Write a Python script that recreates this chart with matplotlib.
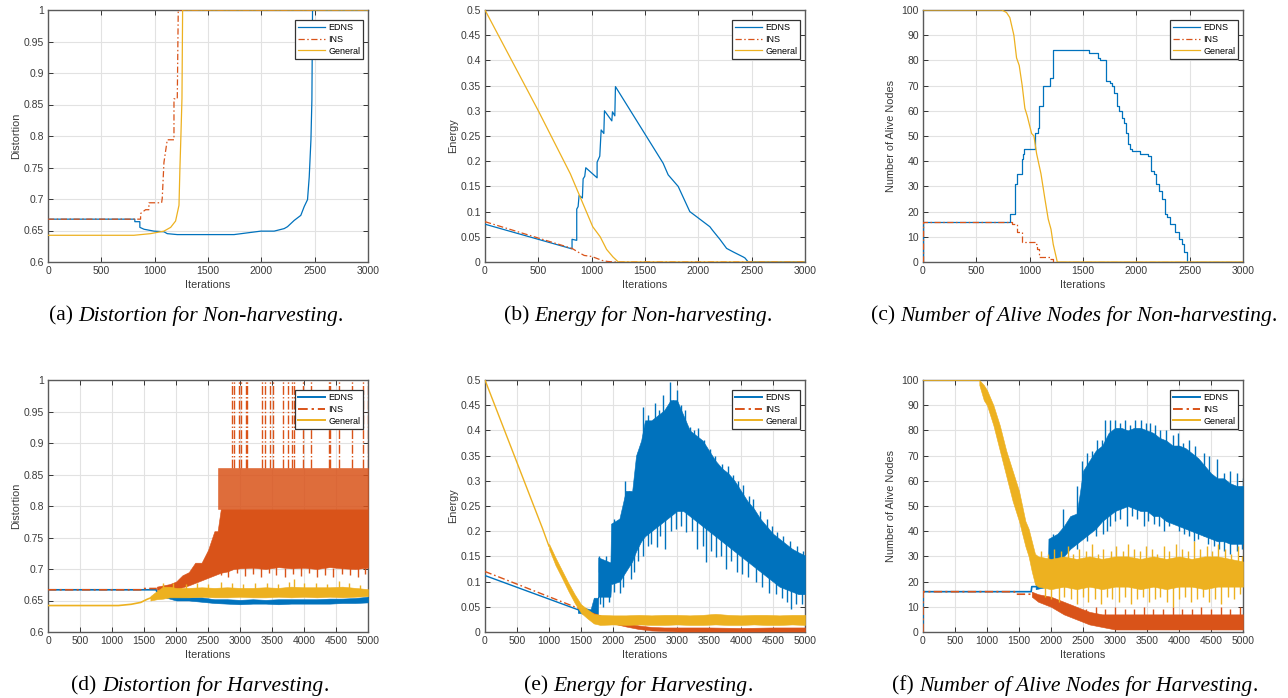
import numpy as np
import matplotlib
matplotlib.use("Agg")
import matplotlib.pyplot as plt
from matplotlib.lines import Line2D
from matplotlib.ticker import FormatStrFormatter
from matplotlib.offsetbox import TextArea, HPacker, AnnotationBbox

plt.rcParams['font.family'] = ['Liberation Sans', 'DejaVu Sans']

BLUE = '#0072BD'
RED = '#D95319'
YEL = '#EDB120'
DASHDOT = (0, (5, 2, 1.2, 2))

# ---------------- (a) distortion, non-harvesting ----------------
a_edns_x = [0, 814, 814, 861, 861, 900, 993, 1087, 1118, 1212, 1744, 1995, 2120, 2214, 2245, 2308, 2370, 2402, 2433, 2449, 2465, 2474, 2480, 3000]
a_edns_y = [0.668, 0.668, 0.664, 0.664, 0.655, 0.652, 0.649, 0.648, 0.645, 0.6435, 0.6435, 0.649, 0.649, 0.653, 0.656, 0.666, 0.674, 0.688, 0.699, 0.735, 0.794, 0.857, 1.0, 1.0]
a_ins_x = [0, 814, 868, 868, 915, 946, 946, 1065, 1071, 1087, 1118, 1181, 1181, 1212, 1221, 3000]
a_ins_y = [0.668, 0.668, 0.668, 0.677, 0.683, 0.683, 0.694, 0.694, 0.701, 0.758, 0.794, 0.794, 0.859, 0.859, 1.0, 1.0]
a_gen_x = [0, 805, 961, 1087, 1150, 1196, 1228, 1237, 1246, 1256, 1262, 3000]
a_gen_y = [0.6424, 0.6424, 0.645, 0.649, 0.655, 0.665, 0.69, 0.75, 0.80, 0.86, 1.0, 1.0]

# ---------------- (b) energy, non-harvesting ----------------
b_edns_x = [0, 816, 816, 860, 860, 873, 882, 913, 920, 935, 945, 1051, 1051, 1076, 1089, 1114, 1120, 1189, 1195, 1217, 1223,
            1670, 1717, 1811, 1920, 1983, 2108, 2133, 2202, 2265, 2327, 2421, 2437, 2468, 3000]
b_edns_y = [0.075, 0.026, 0.045, 0.043, 0.105, 0.11, 0.132, 0.127, 0.165, 0.17, 0.187, 0.167, 0.198, 0.21, 0.262, 0.255, 0.30, 0.28, 0.298, 0.29, 0.348,
            0.196, 0.173, 0.15, 0.10, 0.09, 0.07, 0.063, 0.045, 0.027, 0.02, 0.01, 0.008, 0.0, 0.0]
b_ins_x = [0, 816, 870, 930, 1000, 1050, 1100, 1150, 1220, 3000]
b_ins_y = [0.08, 0.027, 0.02, 0.013, 0.011, 0.007, 0.003, 0.001, 0.0, 0.0]
b_gen_x = [0, 500, 800, 850, 950, 1010, 1080, 1140, 1200, 1250, 3000]
b_gen_y = [0.5, 0.3, 0.175, 0.15, 0.1, 0.07, 0.05, 0.025, 0.01, 0.0, 0.0]

# ---------------- (c) alive nodes, non-harvesting ----------------
c_edns_x = [0, 1, 814, 861, 877, 924, 940, 949, 1049, 1074, 1090, 1121, 1190, 1221, 1560, 1638, 1660, 1716, 1754, 1776, 1791, 1816,
            1838, 1864, 1885, 1901, 1926, 1942, 1957, 2036, 2114, 2139, 2161, 2183, 2208, 2239, 2271, 2286, 2311, 2365, 2402, 2427,
            2449, 2474, 3000]
c_edns_y = [0, 16, 19, 31, 35, 41, 43, 45, 51, 53, 62, 70, 73, 84, 83, 81, 80, 72, 71, 70, 67, 62,
            60, 57, 55, 51, 47, 45, 44, 43, 42, 36, 35, 31, 28, 25, 19, 18, 15, 12, 9, 7,
            4, 0, 0]
c_ins_x = [0, 1, 814, 830, 877, 930, 1049, 1065, 1090, 1190, 1221, 3000]
c_ins_y = [0, 16, 16, 15, 12, 8, 7, 5, 2, 1, 0, 0]
c_gen_x = [0, 739, 783, 814, 852, 877, 902, 930, 955, 977, 1018, 1040, 1065, 1106, 1143, 1174, 1200, 1221, 1259, 3000]
c_gen_y = [100, 100, 99, 97, 90, 81, 78, 70, 61, 58, 51, 50, 43, 35, 25, 17, 13, 7, 0, 0]

# ---------------- (d) distortion, harvesting ----------------
d_edns_x = [0, 1690, 1700, 1760, 1800]
d_edns_y = [0.667, 0.667, 0.664, 0.663, 0.659]
d_edns_bx = [1800, 2000, 2200, 2400, 2600, 2800, 3000, 3200, 3400, 3600, 3800, 4000, 4200, 4400, 4600, 4800, 5000]
d_edns_lo = [0.656, 0.650, 0.650, 0.648, 0.646, 0.645, 0.644, 0.645, 0.645, 0.644, 0.645, 0.645, 0.645, 0.645, 0.646, 0.646, 0.647]
d_edns_hi = [0.662, 0.656, 0.655, 0.655, 0.652, 0.652, 0.651, 0.652, 0.651, 0.652, 0.652, 0.652, 0.652, 0.653, 0.653, 0.654, 0.656]
d_ins_x = [0, 1450, 1460, 1700]
d_ins_y = [0.667, 0.667, 0.669, 0.669]
d_ins_bx = [1700, 1900, 2000, 2100, 2200, 2300, 2400, 2500, 2600, 2650, 2700, 2800, 2900, 3000, 3200, 3400, 3600, 3800, 4000, 4200, 4400, 4600, 4800, 5000]
d_ins_lo = [0.667, 0.666, 0.667, 0.671, 0.674, 0.678, 0.682, 0.686, 0.690, 0.692, 0.694, 0.696, 0.700, 0.701, 0.702, 0.700, 0.703, 0.701, 0.702, 0.700, 0.703, 0.701, 0.700, 0.702]
d_ins_hi = [0.672, 0.676, 0.680, 0.690, 0.695, 0.710, 0.710, 0.730, 0.760, 0.760, 0.795, 0.795, 0.795, 0.795, 0.795, 0.795, 0.795, 0.795, 0.795, 0.795, 0.795, 0.795, 0.795, 0.795]
d_ins_spike_x = [2650, 2700, 2800, 2900, 3000, 3200, 3400, 3600, 3800, 4000, 4200, 4400, 4600, 4800, 5000]
d_ins_spike_hi = [0.86, 0.86, 0.86, 0.86, 0.86, 0.86, 0.86, 0.86, 0.86, 0.86, 0.86, 0.86, 0.86, 0.86, 0.86]
d_ins_top_x = [2871, 2907, 2985, 3022, 3090, 3116, 3351, 3392, 3471, 3523, 3674, 3753, 3805, 3847, 3987, 4108, 4384, 4405, 4541, 4749, 4916, 4995]
d_ins_dn_x = [2700, 2820, 2950, 3080, 3200, 3330, 3460, 3560, 3700, 3830, 3950, 4080, 4200, 4330, 4460, 4600, 4720, 4850, 4960]
d_ins_dn_tip = [0.690, 0.688, 0.694, 0.689, 0.692, 0.688, 0.693, 0.690, 0.687, 0.692, 0.689, 0.693, 0.688, 0.691, 0.687, 0.692, 0.690, 0.688, 0.692]
d_gen_x = [0, 1100, 1300, 1450, 1550, 1650]
d_gen_y = [0.642, 0.642, 0.644, 0.647, 0.652, 0.656]
d_gen_bx = [1600, 1700, 1800, 1900, 2000, 2200, 2400, 2600, 2800, 3000, 3200, 3400, 3600, 3800, 4000, 4200, 4400, 4600, 4800, 5000]
d_gen_lo = [0.650, 0.652, 0.653, 0.655, 0.655, 0.655, 0.656, 0.655, 0.655, 0.656, 0.655, 0.655, 0.656, 0.655, 0.656, 0.655, 0.656, 0.655, 0.656, 0.657]
d_gen_hi = [0.657, 0.665, 0.672, 0.672, 0.670, 0.670, 0.671, 0.670, 0.671, 0.670, 0.670, 0.671, 0.670, 0.672, 0.671, 0.671, 0.671, 0.672, 0.670, 0.668]
d_gen_up_x = [1800, 1950, 2150, 2330, 2500, 2700, 2880, 3050, 3240, 3420, 3600, 3760, 3846, 4000, 4180, 4360, 4550, 4700, 4880]
d_gen_up_tip = [0.677, 0.677, 0.676, 0.678, 0.676, 0.679, 0.677, 0.676, 0.678, 0.677, 0.676, 0.679, 0.684, 0.677, 0.678, 0.676, 0.681, 0.678, 0.675]

# ---------------- (e) energy, harvesting ----------------
e_edns_x = [0, 1500]
e_edns_y = [0.112, 0.042]
e_edns_bx = [1450, 1550, 1650, 1700, 1765, 1770, 1960, 1970, 2100, 2200, 2300, 2360, 2440, 2500, 2600, 2700, 2800, 2900, 3000, 3100,
             3200, 3300, 3400, 3500, 3600, 3700, 3800, 3900, 4000, 4100, 4200, 4300, 4400, 4500, 4600, 4700, 4800, 4900, 5000]
e_edns_hi = [0.046, 0.048, 0.045, 0.068, 0.068, 0.148, 0.138, 0.215, 0.225, 0.28, 0.28, 0.35, 0.38, 0.42, 0.42, 0.43, 0.44, 0.46, 0.46, 0.43,
             0.40, 0.39, 0.38, 0.36, 0.34, 0.325, 0.315, 0.30, 0.28, 0.26, 0.245, 0.225, 0.21, 0.195, 0.185, 0.175, 0.165, 0.158, 0.152]
e_edns_lo = [0.038, 0.036, 0.036, 0.032, 0.036, 0.07, 0.07, 0.095, 0.10, 0.12, 0.14, 0.16, 0.18, 0.19, 0.20, 0.21, 0.22, 0.23, 0.24, 0.24,
             0.23, 0.22, 0.21, 0.20, 0.19, 0.18, 0.17, 0.16, 0.15, 0.14, 0.13, 0.12, 0.11, 0.10, 0.09, 0.085, 0.08, 0.075, 0.075]
e_edns_up_x = [1783, 1883, 2020, 2185, 2250, 2393, 2461, 2550, 2600, 2654, 2720, 2784, 2889, 2940, 2993, 3060, 3130, 3202, 3270, 3332,
               3420, 3515, 3600, 3697, 3790, 3879, 3960, 4036, 4120, 4192, 4300, 4401, 4480, 4557, 4660, 4766, 4870, 4974]
e_edns_up_tip = [0.151, 0.150, 0.225, 0.299, 0.28, 0.357, 0.447, 0.43, 0.41, 0.454, 0.44, 0.47, 0.497, 0.46, 0.48, 0.45, 0.44, 0.407, 0.40, 0.405,
                 0.38, 0.364, 0.35, 0.334, 0.33, 0.311, 0.30, 0.291, 0.27, 0.264, 0.24, 0.224, 0.21, 0.198, 0.19, 0.181, 0.17, 0.161]
e_edns_up_root = [0.12, 0.12, 0.19, 0.24, 0.24, 0.30, 0.33, 0.36, 0.37, 0.38, 0.39, 0.40, 0.42, 0.42, 0.42, 0.41, 0.39, 0.37, 0.36, 0.35,
                  0.34, 0.33, 0.31, 0.30, 0.29, 0.28, 0.27, 0.25, 0.23, 0.22, 0.20, 0.19, 0.18, 0.17, 0.16, 0.15, 0.14, 0.13]
e_edns_dn_x = [1800, 1850, 1930, 2010, 2102, 2160, 2280, 2330, 2385, 2470, 2540, 2600, 2680, 2740, 2815, 2900, 2980, 3060, 3140, 3230,
               3320, 3400, 3450, 3530, 3605, 3680, 3762, 3850, 3930, 4022, 4110, 4230, 4330, 4440, 4540, 4648, 4720, 4778, 4860, 4960]
e_edns_dn_tip = [0.056, 0.05, 0.06, 0.08, 0.078, 0.09, 0.105, 0.12, 0.14, 0.15, 0.17, 0.175, 0.168, 0.19, 0.165, 0.20, 0.205, 0.21, 0.198, 0.20,
                 0.165, 0.17, 0.138, 0.16, 0.148, 0.15, 0.125, 0.14, 0.12, 0.115, 0.11, 0.100, 0.09, 0.078, 0.075, 0.068, 0.06, 0.046, 0.055, 0.055]
e_edns_dn_root = [0.09, 0.09, 0.09, 0.14, 0.14, 0.15, 0.18, 0.19, 0.20, 0.22, 0.23, 0.24, 0.25, 0.26, 0.27, 0.28, 0.29, 0.29, 0.28, 0.27,
                  0.26, 0.25, 0.25, 0.24, 0.23, 0.22, 0.21, 0.20, 0.19, 0.18, 0.17, 0.16, 0.15, 0.14, 0.13, 0.12, 0.115, 0.11, 0.105, 0.10]
e_ins_x = [0, 1500, 1600]
e_ins_y = [0.12, 0.045, 0.039]
e_ins_bx = [1600, 1800, 2000, 2200, 2400, 2600, 2800, 3000, 3500, 4000, 4500, 5000]
e_ins_lo = [0.036, 0.025, 0.017, 0.011, 0.006, 0.003, 0.002, 0.001, 0.001, 0.001, 0.001, 0.001]
e_ins_hi = [0.042, 0.033, 0.024, 0.018, 0.013, 0.010, 0.009, 0.009, 0.009, 0.008, 0.009, 0.009]
e_gen_x = [0, 900, 1000]
e_gen_y = [0.5, 0.205, 0.17]
e_gen_bx = [1000, 1100, 1200, 1300, 1400, 1500, 1600, 1700, 1800, 2000, 2200, 2400, 2600, 2800, 3000, 3200, 3400, 3600, 3800, 4000, 4200, 4400, 4600, 4800, 5000]
e_gen_lo = [0.165, 0.133, 0.108, 0.082, 0.058, 0.038, 0.027, 0.017, 0.014, 0.015, 0.014, 0.015, 0.014, 0.014, 0.015, 0.014, 0.014, 0.015, 0.014, 0.014, 0.015, 0.014, 0.014, 0.015, 0.014]
e_gen_hi = [0.175, 0.148, 0.123, 0.098, 0.075, 0.055, 0.045, 0.036, 0.034, 0.033, 0.033, 0.034, 0.033, 0.034, 0.034, 0.033, 0.034, 0.036, 0.034, 0.033, 0.034, 0.034, 0.033, 0.034, 0.034]

# ---------------- (f) alive nodes, harvesting ----------------
f_edns_x = [0, 1, 1690, 1700, 1760]
f_edns_y = [0, 16, 16, 18, 18]
f_edns_bx = [1760, 1950, 1960, 2100, 2200, 2300, 2400, 2450, 2500, 2600, 2700, 2800, 2900, 3000, 3100, 3200, 3300, 3400, 3500, 3600,
             3700, 3800, 3900, 4000, 4100, 4200, 4300, 4400, 4500, 4600, 4700, 4800, 4900, 5000]
f_edns_hi = [21, 22, 37, 39, 42, 46, 47, 55, 64, 68, 72, 74, 79, 81, 81, 80, 81, 81, 80, 79,
             77, 76, 74, 74, 73, 71, 69, 66, 63, 61, 61, 59, 58, 58]
f_edns_lo = [17, 18, 28, 29, 30, 33, 35, 36, 37, 39, 41, 44, 46, 48, 49, 50, 49, 48, 48, 46,
             46, 44, 43, 42, 41, 40, 39, 38, 37, 36, 36, 35, 35, 35]
f_edns_up_x = [2030, 2187, 2400, 2480, 2560, 2640, 2715, 2800, 2845, 2925, 3000, 3080, 3150, 3230, 3310, 3400, 3480, 3550, 3630, 3706,
               3800, 3900, 3980, 4070, 4160, 4250, 4383, 4470, 4592, 4697, 4800, 4906, 5000]
f_edns_up_tip = [39, 49, 58, 68, 71, 72, 76, 76, 84, 84, 84, 83, 84, 82, 84, 84, 83, 83, 82, 80,
                 80, 78, 79, 75, 76, 74, 71, 70, 68.6, 63, 64, 63, 61]
f_edns_up_root = [33, 38, 43, 50, 57, 62, 66, 68, 70, 74, 76, 76, 76, 75, 76, 76, 75, 75, 74, 73,
                  72, 71, 70, 69, 68, 67, 64, 62, 60, 57, 56, 55, 54]
f_edns_dn_x = [2400, 2560, 2700, 2820, 2880, 2925, 3000, 3082, 3186, 3260, 3340, 3446, 3520, 3603, 3680, 3760, 3840, 3917, 4000, 4073,
               4150, 4230, 4300, 4386, 4460, 4540, 4620, 4700, 4800, 4910, 4980]
f_edns_dn_tip = [33, 36, 38, 39, 40, 42, 44, 45, 42, 46, 45, 42, 44, 43, 42, 40, 42, 44, 40, 39,
                 38, 36, 37, 38, 35, 34, 33, 32, 31, 32, 33]
f_edns_dn_root = [40, 45, 49, 52, 53, 54, 56, 57, 58, 57, 56, 56, 56, 54, 54, 52, 51, 50, 50, 49,
                  48, 47, 47, 46, 45, 44, 44, 44, 43, 42, 42]
f_ins_x = [0, 1, 1430, 1440, 1700]
f_ins_y = [0, 16, 16, 15, 15]
f_ins_bx = [1700, 1800, 2000, 2200, 2400, 2600, 2800, 3000, 3500, 4000, 4500, 5000]
f_ins_lo = [14, 12, 10, 7, 5, 3, 2, 1, 1, 1, 1, 1]
f_ins_hi = [16, 15, 14, 12, 10, 8, 7, 7, 7, 7, 7, 7]
f_ins_up_x = [2550, 2700, 2850, 3000, 3150, 3300, 3450, 3600, 3750, 3900, 4050, 4200, 4350, 4500, 4650, 4800, 4950]
f_ins_up_tip = [9, 10, 9, 10, 9, 9, 10, 9, 9, 10, 9, 9, 10, 9, 10, 9, 10]
f_gen_x = [0, 880]
f_gen_y = [100, 100]
f_gen_bx = [880, 950, 1000, 1100, 1200, 1300, 1400, 1500, 1600, 1650, 1700, 1750, 1800, 2000, 2200, 2400, 2600, 2800, 3000, 3200,
            3400, 3600, 3800, 4000, 4200, 4400, 4600, 4800, 5000]
f_gen_hi = [100, 98, 96, 90, 82, 72, 64, 56, 44, 41, 36, 31, 30, 29, 30, 29, 30, 29, 30, 30,
            29, 30, 29, 30, 29, 30, 30, 29, 28]
f_gen_lo = [98, 92, 90, 82, 72, 62, 52, 44, 34, 30, 24, 19, 18, 17, 18, 17, 18, 17, 18, 18,
            17, 18, 17, 18, 18, 17, 18, 18, 18]
f_gen_up_x = [1850, 1950, 2050, 2150, 2260, 2350, 2440, 2550, 2640, 2730, 2820, 2930, 3010, 3120, 3200, 3290, 3390, 3480, 3580, 3660,
              3760, 3850, 3950, 4040, 4140, 4230, 4330, 4430, 4520, 4610, 4720, 4810, 4920, 4990]
f_gen_up_tip = [32, 31, 33, 32, 34, 31, 33, 32, 35, 31, 33, 32, 34, 32, 35, 33, 32, 34, 33, 31,
                34, 32, 35, 33, 32, 36, 33, 34, 32, 35, 33, 31, 34, 30]
f_gen_dn_x = [1900, 2000, 2120, 2200, 2310, 2400, 2500, 2580, 2690, 2780, 2870, 2960, 3060, 3160, 3250, 3340, 3440, 3530, 3620, 3710,
              3810, 3900, 4000, 4090, 4180, 4280, 4380, 4470, 4570, 4660, 4760, 4860, 4950]
f_gen_dn_tip = [14, 13, 12, 14, 13, 11, 14, 12, 13, 11, 14, 13, 12, 14, 11, 13, 14, 12, 13, 14,
                12, 10, 13, 14, 12, 13, 14, 12, 13, 11, 14, 13, 15]

captions = [("(a) ", "Distortion for Non-harvesting"),
            ("(b) ", "Energy for Non-harvesting"),
            ("(c) ", "Number of Alive Nodes for Non-harvesting"),
            ("(d) ", "Distortion for Harvesting"),
            ("(e) ", "Energy for Harvesting"),
            ("(f) ", "Number of Alive Nodes for Harvesting")]

W, H = 1288, 698
fig = plt.figure(figsize=(W / 100, H / 100), dpi=100)

lefts = [48, 485, 923]
tops = [10, 380]


def make_ax(col, row):
    l = lefts[col]
    t = tops[row]
    return fig.add_axes([l / W, 1 - (t + 252) / H, 320 / W, 252 / H])


def style(ax, xmax, ymax, ystep, ylabel, ymin=0.0):
    ax.set_xlim(0, xmax)
    ax.set_ylim(ymin, ymax)
    ax.set_xticks(np.arange(0, xmax + 1, 500))
    ax.set_yticks(np.arange(ymin, ymax + ystep / 2, ystep))
    ax.yaxis.set_major_formatter(FormatStrFormatter('%g'))
    ax.grid(True, color='#e2e2e2', lw=0.8)
    ax.set_axisbelow(True)
    ax.tick_params(direction='in', top=True, right=True, length=3.5, width=0.7,
                   color='#333333', labelcolor='#3a3a3a', labelsize=7.5, pad=3)
    for s in ax.spines.values():
        s.set_color('#5a5a5a')
        s.set_linewidth(1.0)
    ax.set_xlabel('Iterations', fontsize=7.8, color='#3a3a3a', labelpad=3)
    ax.set_ylabel(ylabel, fontsize=7.8, color='#3a3a3a')
    ax.yaxis.set_label_coords(-0.085, 0.5)


def legend(ax, lw):
    hs = [Line2D([], [], color=BLUE, lw=lw),
          Line2D([], [], color=RED, lw=lw, ls=DASHDOT),
          Line2D([], [], color=YEL, lw=lw)]
    lg = ax.legend(hs, ['EDNS', 'INS', 'General'], loc='upper right', bbox_to_anchor=(0.985, 0.96),
                   borderaxespad=0, fontsize=6.5, handlelength=3.0, handletextpad=0.3,
                   labelspacing=0.3, borderpad=0.35, fancybox=False, framealpha=1)
    lg.get_frame().set_edgecolor('#333333')
    lg.get_frame().set_linewidth(0.9)
    lg.set_zorder(10)


def band(ax, x, lo, hi, color, alpha=1.0):
    ax.fill_between(x, lo, hi, color=color, lw=0.4, alpha=alpha, zorder=3)


def spikes(ax, x, tip, root, color, ls='-'):
    ax.vlines(x, tip, root, color=color, lw=1.0, linestyles=ls, zorder=3)


# (a)
ax = make_ax(0, 0)
ax.plot(a_edns_x, a_edns_y, color=BLUE, lw=0.9, zorder=3)
ax.plot(a_ins_x, a_ins_y, color=RED, lw=0.9, ls=DASHDOT, zorder=3)
ax.plot(a_gen_x, a_gen_y, color=YEL, lw=0.9, zorder=3)
style(ax, 3000, 1.0, 0.05, 'Distortion', ymin=0.6)
legend(ax, 0.9)

# (b)
ax = make_ax(1, 0)
ax.plot(b_edns_x, b_edns_y, color=BLUE, lw=0.9, zorder=3)
ax.plot(b_ins_x, b_ins_y, color=RED, lw=0.9, ls=DASHDOT, zorder=3)
ax.plot(b_gen_x, b_gen_y, color=YEL, lw=0.9, zorder=3)
style(ax, 3000, 0.5, 0.05, 'Energy')
legend(ax, 0.9)

# (c)
ax = make_ax(2, 0)
ax.plot(c_edns_x, c_edns_y, color=BLUE, lw=0.9, drawstyle='steps-post', zorder=3)
ax.plot(c_ins_x, c_ins_y, color=RED, lw=0.9, ls=DASHDOT, drawstyle='steps-post', zorder=3)
ax.plot(c_gen_x, c_gen_y, color=YEL, lw=0.9, zorder=3)
style(ax, 3000, 100, 10, 'Number of Alive Nodes')
legend(ax, 0.9)

# (d)
ax = make_ax(0, 1)
ax.plot(d_edns_x, d_edns_y, color=BLUE, lw=1.2, zorder=3)
band(ax, d_edns_bx, d_edns_lo, d_edns_hi, BLUE)
ax.plot(d_ins_x, d_ins_y, color=RED, lw=1.2, ls=DASHDOT, zorder=3)
band(ax, d_ins_spike_x, 0.795, d_ins_spike_hi, RED, alpha=0.85)
band(ax, d_ins_bx, d_ins_lo, d_ins_hi, RED)
spikes(ax, d_ins_top_x, 0.86, 1.0, RED, ls='-.')
spikes(ax, d_ins_dn_x, d_ins_dn_tip, 0.71, RED, ls='-.')
ax.plot(d_gen_x, d_gen_y, color=YEL, lw=1.2, zorder=3)
band(ax, d_gen_bx, d_gen_lo, d_gen_hi, YEL)
spikes(ax, d_gen_up_x, d_gen_up_tip, 0.665, YEL)
style(ax, 5000, 1.0, 0.05, 'Distortion', ymin=0.6)
legend(ax, 1.4)

# (e)
ax = make_ax(1, 1)
ax.plot(e_edns_x, e_edns_y, color=BLUE, lw=1.0, zorder=3)
band(ax, e_edns_bx, e_edns_lo, e_edns_hi, BLUE)
spikes(ax, e_edns_up_x, e_edns_up_tip, e_edns_up_root, BLUE)
spikes(ax, e_edns_dn_x, e_edns_dn_tip, e_edns_dn_root, BLUE)
ax.plot(e_ins_x, e_ins_y, color=RED, lw=1.0, ls=DASHDOT, zorder=3)
band(ax, e_ins_bx, e_ins_lo, e_ins_hi, RED)
ax.plot(e_gen_x, e_gen_y, color=YEL, lw=1.0, zorder=3)
band(ax, e_gen_bx, e_gen_lo, e_gen_hi, YEL)
style(ax, 5000, 0.5, 0.05, 'Energy')
legend(ax, 1.4)

# (f)
ax = make_ax(2, 1)
ax.plot(f_edns_x, f_edns_y, color=BLUE, lw=1.2, zorder=3)
band(ax, f_edns_bx, f_edns_lo, f_edns_hi, BLUE)
spikes(ax, f_edns_up_x, f_edns_up_tip, f_edns_up_root, BLUE)
spikes(ax, f_edns_dn_x, f_edns_dn_tip, f_edns_dn_root, BLUE)
ax.plot(f_ins_x, f_ins_y, color=RED, lw=1.2, ls=DASHDOT, zorder=3)
band(ax, f_ins_bx, f_ins_lo, f_ins_hi, RED)
spikes(ax, f_ins_up_x, f_ins_up_tip, 5, RED)
ax.plot(f_gen_x, f_gen_y, color=YEL, lw=1.2, zorder=3)
band(ax, f_gen_bx, f_gen_lo, f_gen_hi, YEL)
spikes(ax, f_gen_up_x, f_gen_up_tip, 25, YEL)
spikes(ax, f_gen_dn_x, f_gen_dn_tip, 22, YEL)
style(ax, 5000, 100, 10, 'Number of Alive Nodes')
legend(ax, 1.4)

# captions
cap_x = [196, 638, 1074, 200, 638, 1075]
cap_y = [316, 316, 316, 686, 686, 686]
for (tag, txt), cx, cy in zip(captions, cap_x, cap_y):
    parts = [TextArea(tag, textprops=dict(family='Liberation Serif', size=15.6, color='black')),
             TextArea(txt, textprops=dict(family='Liberation Serif', size=15.6, style='italic', color='black')),
             TextArea('.', textprops=dict(family='Liberation Serif', size=15.6, color='black'))]
    box = HPacker(children=parts, align='baseline', pad=0, sep=0)
    ab = AnnotationBbox(box, (cx / W, 1 - cy / H), xycoords='figure fraction', frameon=False,
                        box_alignment=(0.5, 0.5), pad=0)
    fig.add_artist(ab)

fig.savefig('out.png', dpi=100)
